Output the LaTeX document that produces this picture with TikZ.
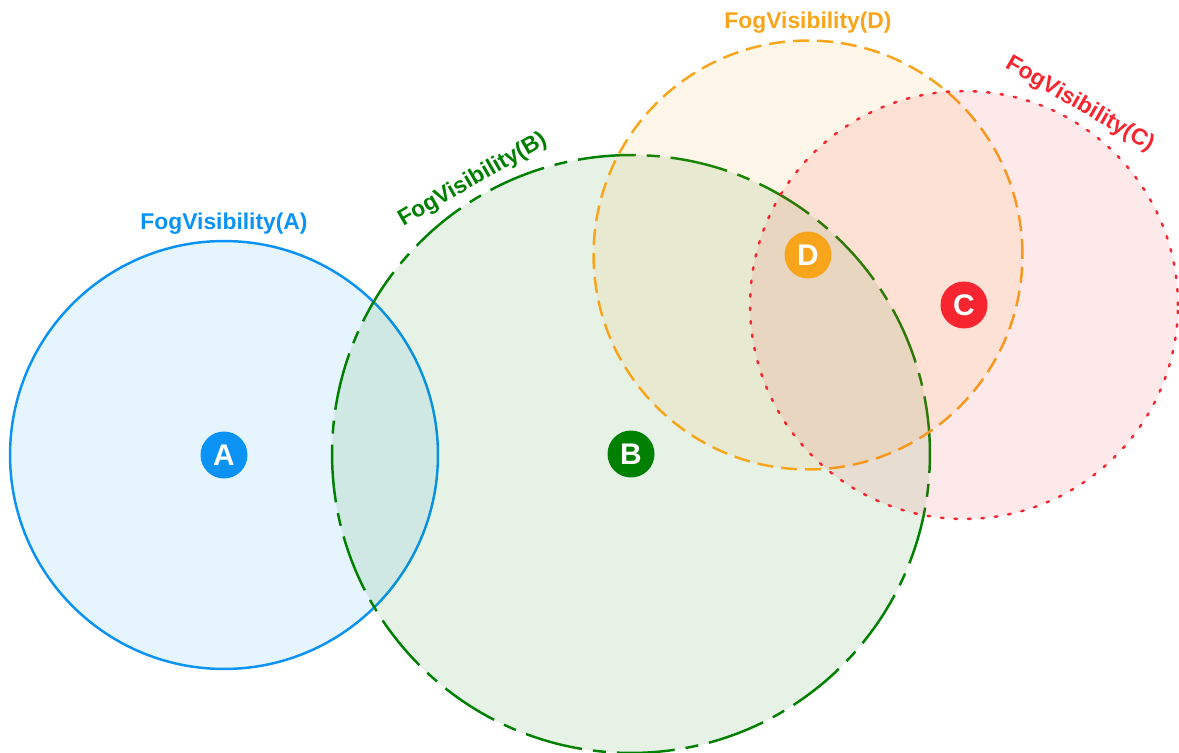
\documentclass[tikz,border=0pt]{standalone}
\usepackage{fontspec}
\setmainfont{Liberation Sans}
\usetikzlibrary{positioning}
\definecolor{cblue}{HTML}{0A93F5}
\definecolor{cgreen}{HTML}{008000}
\definecolor{corange}{HTML}{F8A51C}
\definecolor{cred}{HTML}{F7252F}
\tikzset{
  zone/.style={circle, draw=#1, fill=#1, fill opacity=0.1, draw opacity=1, line width=1.4pt, inner sep=0pt},
  dot/.style={circle, fill=#1, text=white, minimum size=0.94cm, inner sep=0pt, font=\fontsize{17pt}{17pt}\selectfont\bfseries},
  fog/.style={text=#1, font=\fontsize{13pt}{15pt}\selectfont\bfseries, inner sep=3pt},
}

\begin{document}
\begin{tikzpicture}[x=0.02cm, y=-0.02cm,
  longshort/.style={dash pattern=on 1.16cm off 0.22cm on 0.26cm off 0.22cm},
  shortdash/.style={dash pattern=on 0.32cm off 0.16cm},
  dotted line/.style={dash pattern=on 0.05cm off 0.22cm, line cap=round}]
  \useasboundingbox (0,0) rectangle (1179,753);
  \node[zone=cblue, minimum size=8.56cm] (zA) at (224,455) {};
  \node[zone=cgreen, minimum size=11.96cm, longshort] (zB) at (631,454) {};
  \node[zone=corange, minimum size=8.58cm, shortdash] (zD) at (808,255) {};
  \node[zone=cred, minimum size=8.56cm, dotted line] (zC) at (964,305) {};
  % labels round the zones
  \node[fog=cblue, anchor=south] (lA) at (zA.north) {FogVisibility(A)};
  \node[fog=cgreen, anchor=south, rotate=30] (lB) at (zB.120) {FogVisibility(B)};
  \node[fog=corange, anchor=south] (lD) at (zD.north) {FogVisibility(D)};
  \node[fog=cred, anchor=south, rotate=-30] (lC) at (zC.60) {FogVisibility(C)};
  \foreach \z/\c in {A/cblue, B/cgreen, D/corange, C/cred}
    \node[dot=\c] (d\z) at (z\z) {\z};
\end{tikzpicture}
\end{document}
